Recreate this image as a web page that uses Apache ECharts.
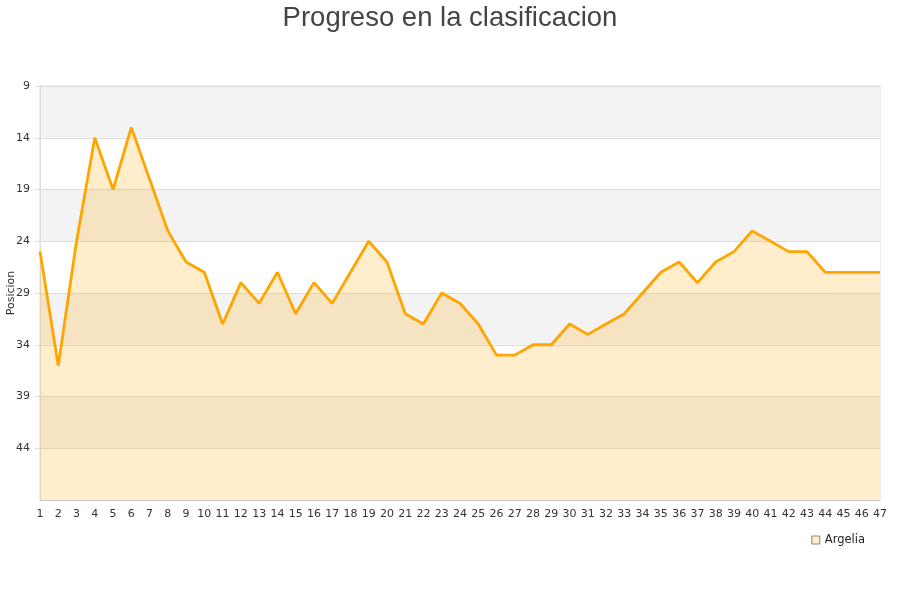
<!DOCTYPE html>
<html>
<head>
<meta charset="utf-8">
<script src="https://cdn.jsdelivr.net/npm/echarts@6/dist/echarts.min.js"></script>
<style>html,body{margin:0;padding:0;background:#fff}#c{width:900px;height:600px}</style>
</head>
<body>
<div id="c"></div>
<script>
var titleText = 'Progreso en la clasificacion';
var yAxisName = 'Posicion';
var seriesName = 'Argelia';
var categories = [];
for (var i = 1; i <= 47; i++) categories.push(String(i));
var positions = [25,36,24,14,19,13,18,23,26,27,32,28,30,27,31,28,30,27,24,26,31,32,29,30,32,35,35,34,34,32,33,32,31,29,27,26,28,26,25,23,24,25,25,27,27,27,27];

var chart = echarts.init(document.getElementById('c'));
chart.setOption({
  animation: false,
  title: {
    text: titleText, left: 'center', top: -1,
    textStyle: {fontFamily: 'Liberation Sans', fontSize: 27.5, fontWeight: 'normal', color: '#444'}
  },
  legend: {
    data: [{name: seriesName, icon: 'rect', itemStyle: {color: '#FFEDCC', borderColor: '#888', borderWidth: 1}}],
    right: 30, top: 529, itemWidth: 8, itemHeight: 8, itemGap: 9,
    textStyle: {fontFamily: 'DejaVu Sans', fontSize: 11.5, color: '#222'}
  },
  grid: {left: 40, right: 20, top: 86, bottom: 100, containLabel: false, outerBoundsMode: 'none', show: true, borderColor: '#ddd', borderWidth: 1},
  xAxis: {
    type: 'category', data: categories, boundaryGap: false,
    axisLine: {lineStyle: {color: '#ccc'}},
    axisTick: {show: false},
    axisLabel: {interval: 0, color: '#333', fontFamily: 'DejaVu Sans', fontSize: 11, margin: 9},
    splitLine: {show: false}
  },
  yAxis: {
    type: 'value', inverse: true, min: 9, max: 49, interval: 5,
    name: yAxisName, nameLocation: 'middle', nameGap: 23, nameRotate: 90, nameMoveOverlap: false,
    nameTextStyle: {fontFamily: 'DejaVu Sans', fontSize: 11, color: '#333'},
    axisLine: {show: true, lineStyle: {color: '#ddd'}},
    axisTick: {show: true, length: 5, lineStyle: {color: '#ddd'}},
    axisLabel: {color: '#333', fontFamily: 'DejaVu Sans', fontSize: 11, margin: 10, showMaxLabel: false},
    splitLine: {lineStyle: {color: '#ddd'}},
    splitArea: {show: true, areaStyle: {color: ['#f3f3f3', '#ffffff']}}
  },
  series: [{
    name: seriesName, type: 'line', data: positions,
    symbol: 'none', smooth: false,
    lineStyle: {color: '#FFA500', width: 2.8},
    itemStyle: {color: '#FFEDCC', borderColor: '#888'},
    areaStyle: {color: 'rgba(255,165,0,0.2)', opacity: 1, origin: 'end'}
  }]
});
</script>
</body>
</html>
